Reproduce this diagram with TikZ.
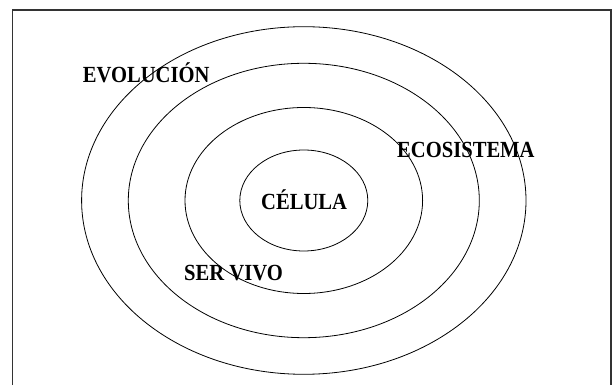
\documentclass[tikz,border=0pt]{standalone}
\usepackage{fontspec}
\usepackage{graphicx}
\setmainfont{Liberation Serif}
\usetikzlibrary{shapes.geometric}
\newcommand{\tallbf}[1]{\scalebox{1}[1.12]{#1}}
\begin{document}
\begin{tikzpicture}[x=1pt,y=1pt,
  ring/.style={draw=black, line width=0.8pt, ellipse, inner sep=0pt, outer sep=0pt},
  lbl/.style={anchor=base west, inner sep=0pt, text=black, font=\fontsize{20.6}{24}\selectfont\bfseries},
  frame/.style={draw=black!80, line width=1.1pt}]
\useasboundingbox (0,0) rectangle (612,385);
\coordinate (fbl) at (12.5,0);
\coordinate (ftl) at (12.5,375);
\coordinate (ftr) at (611,375);
\coordinate (fbr) at (611,0);
\draw[frame] (fbl) -- (ftl) -- (ftr) -- (fbr);
\node[ring, minimum width=444.4pt, minimum height=347.6pt] (evo) at (303.8,184.5) {};
\node[ring, minimum width=351pt, minimum height=274.4pt] (eco) at (303.8,184.5) {};
\node[ring, minimum width=237.6pt, minimum height=186pt] (ser) at (303.8,184.5) {};
\node[ring, minimum width=128pt, minimum height=101pt] (cel) at (303.8,184.5) {};
\node[lbl] (tevo) at (82.7,302.3) {\tallbf{EVOLUCIÓN}};
\node[lbl] (teco) at (397,227.3) {\tallbf{ECOSISTEMA}};
\node[lbl] (tser) at (184,104.3) {\tallbf{SER VIVO}};
\node[lbl] (tcel) at (261,175.7) {\tallbf{CÉLULA}};
\end{tikzpicture}
\end{document}
